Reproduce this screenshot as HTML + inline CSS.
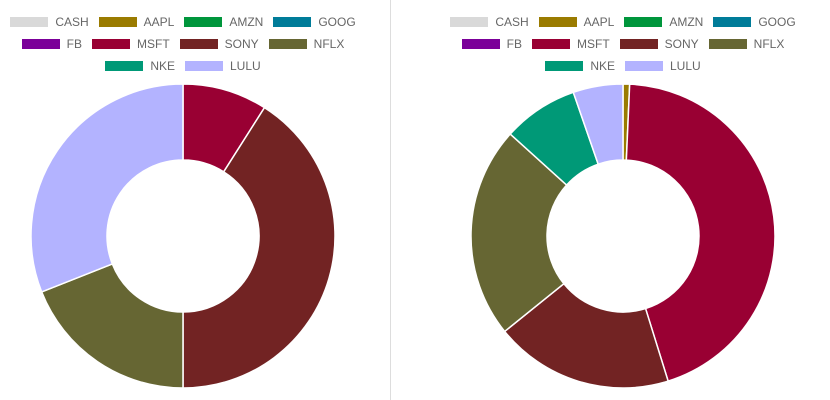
<!DOCTYPE html>
<html><head><meta charset="utf-8"><style>
body{margin:0;width:830px;height:400px;background:#fff;font-family:"Liberation Sans",sans-serif;overflow:hidden;position:relative}
.panel{position:absolute;top:0;height:400px}
.legend{position:absolute;top:15px;left:0;right:0;font-size:12px;color:#666}
.row{display:flex;justify-content:center;height:22px;align-items:flex-start}
.item{display:flex;align-items:center;margin:0 5px;height:14px}
.sw{width:38px;height:10px;margin-right:7px}
svg{position:absolute;left:0;top:0}
</style></head><body>
<div class="panel" id="p1" style="left:0;width:366px"></div>
<div style="position:absolute;left:390px;top:0;width:1px;height:400px;background:#ddd"></div>
<div class="panel" id="p2" style="left:440px;width:366px"></div>
<script>
const categories=["CASH","AAPL","AMZN","GOOG","FB","MSFT","SONY","NFLX","NKE","LULU"];
const colors=["#d9d9d9","#9a7b00","#00963c","#007c99","#7b0099","#990033","#722323","#666633","#009977","#b3b3ff"];
const leftValues=[0,0,0,0,0,9,41,19,0,31];
const rightValues=[0,0.7,0,0,0,44.5,19,22.5,8,5.3];
const rows=[[0,1,2,3],[4,5,6,7],[8,9]];
const NS="http://www.w3.org/2000/svg";
function build(id,values,cx,name){
  const p=document.getElementById(id);
  const lg=document.createElement('div');lg.className='legend';
  
  
  rows.forEach(r=>{const row=document.createElement('div');row.className='row';
    r.forEach(i=>{const it=document.createElement('div');it.className='item';
      
      
      it.innerHTML='<div class="sw" style="background:'+colors[i]+'"></div><span>'+categories[i]+'</span>';
      row.appendChild(it);});
    lg.appendChild(row);});
  p.appendChild(lg);
  const svg=document.createElementNS(NS,'svg');svg.setAttribute('width',830);svg.setAttribute('height',400);
  
  
  svg.style.left=(-parseInt(p.style.left))+'px';
  p.appendChild(svg);
  const total=values.reduce((a,b)=>a+b,0);
  const cy=236,R=152,r=76;let a=0;
  const pt=(rad,ang)=>[cx+rad*Math.sin(ang),cy-rad*Math.cos(ang)];
  values.forEach((v,i)=>{if(v<=0)return;
    const a0=a/total*2*Math.PI;a+=v;const a1=a/total*2*Math.PI;
    const lf=(a1-a0)>Math.PI?1:0;
    const [x0,y0]=pt(R,a0),[x1,y1]=pt(R,a1),[x2,y2]=pt(r,a1),[x3,y3]=pt(r,a0);
    const path=document.createElementNS(NS,'path');
    path.setAttribute('d',`M${x0},${y0}A${R},${R} 0 ${lf} 1 ${x1},${y1}L${x2},${y2}A${r},${r} 0 ${lf} 0 ${x3},${y3}Z`);
    path.setAttribute('fill',colors[i]);path.setAttribute('stroke','#fff');path.setAttribute('stroke-width','1.5');
    
    
    svg.appendChild(path);});
}
build('p1',leftValues,183,'left');
build('p2',rightValues,623,'right');
</script>
</body></html>
